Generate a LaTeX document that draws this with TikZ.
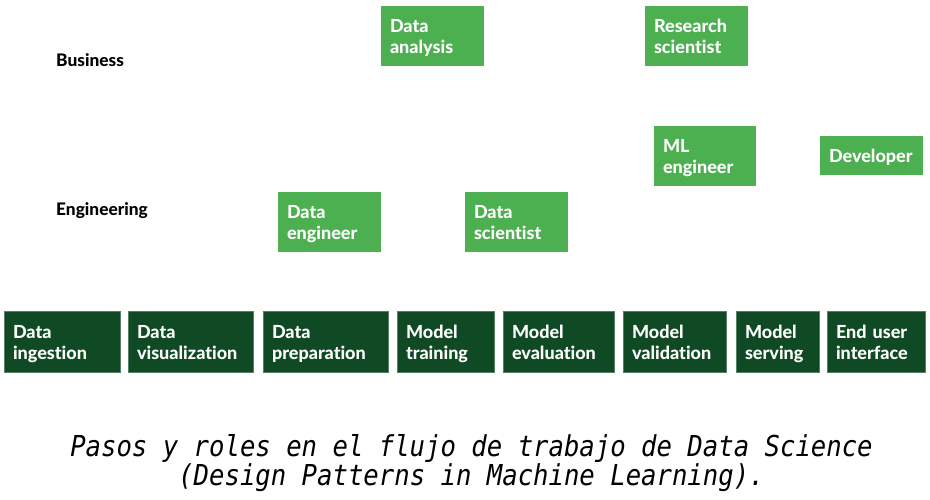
\documentclass[tikz,border=0pt]{standalone}
\usepackage{fontspec}
\setmainfont{Lato}[BoldFont={Lato Heavy}, Ligatures=NoCommon]
\newfontfamily\capfont{DejaVu Sans Mono}[FakeStretch=0.89]

\begin{document}
\begin{tikzpicture}[x=1pt, y=-1pt,
  role/.style={fill=rolegreen, text=white, font=\bfseries\fontsize{18}{21}\selectfont,
    align=left, inner xsep=9pt, inner ysep=0pt, minimum height=60pt,
    execute at begin node=\rule{0pt}{17.7pt},
    execute at end node=\rule[-3.3pt]{0pt}{3.3pt}},
  stage/.style={role, fill=stagegreen, draw=stagegreen!70!white, line width=0.6pt,
    minimum height=61pt},
  area/.style={anchor=west, inner sep=0pt, font=\bfseries\fontsize{17.3}{20}\selectfont}]
\definecolor{rolegreen}{RGB}{76,175,80}
\definecolor{stagegreen}{RGB}{16,74,36}
\useasboundingbox[fill=white] (0,0) rectangle (930,499);
%% Areas
\node[area] (business) at (56,60) {Business};
\node[area] (engineering) at (56,211) {Engineering};
%% Roles
\node[role, text width=85pt] (analysis) at (432.5,36) {Data\\analysis};
\node[role, text width=85pt] (research) at (696.5,36) {Research\\scientist};
\node[role, text width=84pt] (mleng) at (705,156) {ML\\engineer};
\node[role, text width=85pt, minimum height=39pt] (developer) at (871.5,155.5) {Developer};
\node[role, text width=85pt] (dataeng) at (329.5,222) {Data\\engineer};
\node[role, text width=85pt] (datasci) at (516.5,222) {Data\\scientist};
%% Steps of the workflow
\node[stage, text width=98pt] (ingestion) at (62,341.5) {Data\\ingestion};
\node[stage, text width=107pt] (visual) at (190.5,341.5) {Data\\visualization};
\node[stage, text width=107pt] (prep) at (325.5,341.5) {Data\\preparation};
\node[stage, text width=79pt] (training) at (445.5,341.5) {Model\\training};
\node[stage, text width=93pt] (evaluation) at (558.5,341.5) {Model\\evaluation};
\node[stage, text width=85pt] (validation) at (674.5,341.5) {Model\\validation};
\node[stage, text width=65pt] (serving) at (777.5,341.5) {Model\\serving};
\node[stage, text width=80pt] (enduser) at (876,341.5) {End user\\interface};
%% Caption
\node[align=center, inner sep=0pt, font=\capfont\itshape\fontsize{28.8}{29}\selectfont] (caption) at (471.5,463)
  {Pasos y roles en el flujo de trabajo de Data Science\\(Design Patterns in Machine Learning).};
\end{tikzpicture}
\end{document}
